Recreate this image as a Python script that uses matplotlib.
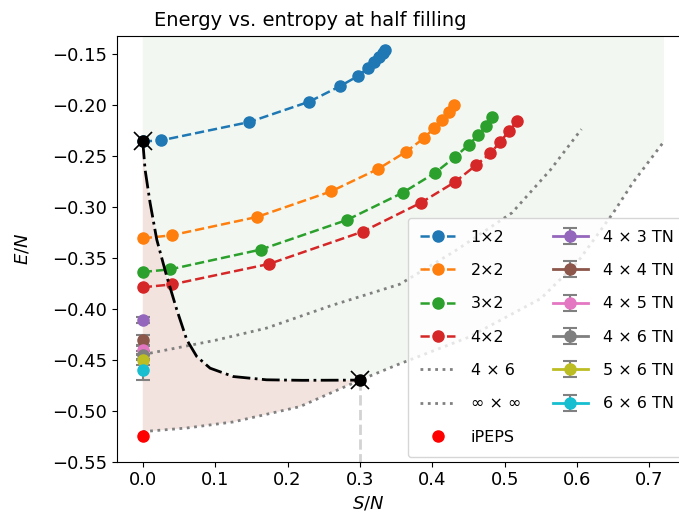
import numpy as np
import matplotlib
matplotlib.use("Agg")
from matplotlib import pyplot as plt

# ED results for small clusters: entropy per site vs energy per site
s_1x2 = [0.0, 0.025, 0.147, 0.230, 0.272, 0.297, 0.311, 0.320, 0.327, 0.332, 0.335]
e_1x2 = [-0.236, -0.235, -0.217, -0.197, -0.182, -0.172, -0.164, -0.158, -0.153, -0.149, -0.146]

s_2x2 = [0.0, 0.040, 0.158, 0.260, 0.325, 0.364, 0.388, 0.403, 0.414, 0.423, 0.430]
e_2x2 = [-0.331, -0.328, -0.310, -0.285, -0.263, -0.246, -0.233, -0.2225, -0.2146, -0.2072, -0.2003]

s_3x2 = [0.0, 0.038, 0.163, 0.282, 0.359, 0.404, 0.431, 0.450, 0.463, 0.474, 0.483]
e_3x2 = [-0.364, -0.3614, -0.342, -0.313, -0.2863, -0.2667, -0.2514, -0.2396, -0.230, -0.2212, -0.2121]

s_4x2 = [0.0, 0.041, 0.1745, 0.304, 0.384, 0.431, 0.460, 0.480, 0.4935, 0.506, 0.5174]
e_4x2 = [-0.379, -0.3761, -0.3561, -0.3244, -0.2962, -0.2759, -0.2595, -0.2478, -0.2367, -0.2258, -0.216]

# finite-T curves
s_4x6 = [0.0, 0.1, 0.171, 0.26, 0.355, 0.43, 0.51, 0.563, 0.606]
e_4x6 = [-0.445, -0.431, -0.419, -0.397, -0.376, -0.344, -0.306, -0.264, -0.224]

s_inf = [0.0, 0.06, 0.125, 0.217, 0.3, 0.355, 0.45, 0.55, 0.6, 0.65, 0.677, 0.72]
e_inf = [-0.5205, -0.517, -0.511, -0.496, -0.47, -0.454, -0.428, -0.39, -0.355, -0.306, -0.2765, -0.236]

# boundary curve between ground state and the S/N = 0.3 point
s_bound = [0.0, 0.0032, 0.0101, 0.0193, 0.0331, 0.047, 0.0608, 0.0746, 0.093,
           0.125, 0.171, 0.22, 0.3]
e_bound = [-0.236, -0.2637, -0.2962, -0.3322, -0.3683, -0.401, -0.4305, -0.4469, -0.4583,
           -0.4665, -0.4697, -0.4702, -0.47]

# tensor network ground-state energies at S = 0
tn_labels = ["4 × 3 TN", "4 × 4 TN", "4 × 5 TN", "4 × 6 TN", "5 × 6 TN", "6 × 6 TN"]
tn_energy = [-0.4108, -0.4306, -0.4403, -0.445, -0.4502, -0.460]
tn_err = [0.003, 0.005, 0.004, 0.004, 0.005, 0.010]
tn_colors = ["C4", "C5", "C6", "C7", "C8", "C9"]

ipeps_energy = -0.525
marked_s = [0.0, 0.3]
marked_e = [-0.236, -0.47]

fig = plt.figure(figsize=(6.79, 5.23), dpi=100)
ax = fig.add_axes([0.1719, 0.1172, 0.8443, 0.814])

top = 0.0
i3 = s_inf.index(0.3)
# allowed region (green) and excluded wedge (pink)
green_x = s_bound + s_inf[i3 + 1:] + [s_inf[-1], 0.0]
green_y = e_bound + e_inf[i3 + 1:] + [top, top]
ax.fill(green_x, green_y, color="#f2f8f1", lw=0, zorder=0)
pink_x = s_bound + s_inf[:i3 + 1][::-1]
pink_y = e_bound + e_inf[:i3 + 1][::-1]
ax.fill(pink_x, pink_y, color="#f3e3df", lw=0, zorder=0)

ms = 8
ax.plot(s_1x2, e_1x2, "--o", color="C0", ms=ms, lw=1.8, label="1×2")
ax.plot(s_2x2, e_2x2, "--o", color="C1", ms=ms, lw=1.8, label="2×2")
ax.plot(s_3x2, e_3x2, "--o", color="C2", ms=ms, lw=1.8, label="3×2")
ax.plot(s_4x2, e_4x2, "--o", color="C3", ms=ms, lw=1.8, label="4×2")
ax.plot(s_4x6, e_4x6, ":", color="gray", lw=2, label="4 × 6")
ax.plot(s_inf, e_inf, ":", color="gray", lw=2, label="∞ × ∞")
ax.plot([0.0], [ipeps_energy], "o", color="red", ms=ms, label="iPEPS", zorder=4)

for lab, e, err, c in zip(tn_labels, tn_energy, tn_err, tn_colors):
    ax.errorbar([0.0], [e], yerr=[err], fmt="-o", color=c, ecolor="gray", ms=ms,
                lw=2, elinewidth=1.5, capsize=5, capthick=1.5, label=lab, zorder=4)

ax.plot(s_bound, e_bound, "-.", color="black", lw=2, zorder=5)
ax.plot([0.3, 0.3], [-0.47, -0.56], "--", color="lightgray", lw=2, zorder=1)
ax.plot(marked_s, marked_e, "o", color="black", ms=ms, ls="none", zorder=6)
ax.plot(marked_s, marked_e, "x", color="black", ms=13, mew=1.2, ls="none", zorder=6)

ax.set_xlim(-0.036, 0.756)
ax.set_ylim(-0.55, -0.1326)
ax.set_xticks(np.arange(0.0, 0.71, 0.1))
ax.set_yticks(np.arange(-0.55, -0.149, 0.05))
ax.tick_params(labelsize=13)
ax.set_xlabel("$S/N$", fontsize=13)
ax.set_ylabel("$E/N$", fontsize=13)
ax.xaxis.set_label_coords(0.438, -0.076)
ax.yaxis.set_label_coords(-0.148, 0.5)

fig.text(310 / 679, 1 - 26 / 523, "Energy vs. entropy at half filling",
         ha="center", va="baseline", fontsize=14)

ax.legend(ncol=2, fontsize=11.5, loc="lower left",
          bbox_to_anchor=(408.3 / 679, 1 - 456.7 / 523), bbox_transform=fig.transFigure,
          borderaxespad=0, borderpad=0.75, handlelength=2.2, handletextpad=0.95,
          columnspacing=2.0, labelspacing=1.15)

fig.savefig("out.png", dpi=100)
